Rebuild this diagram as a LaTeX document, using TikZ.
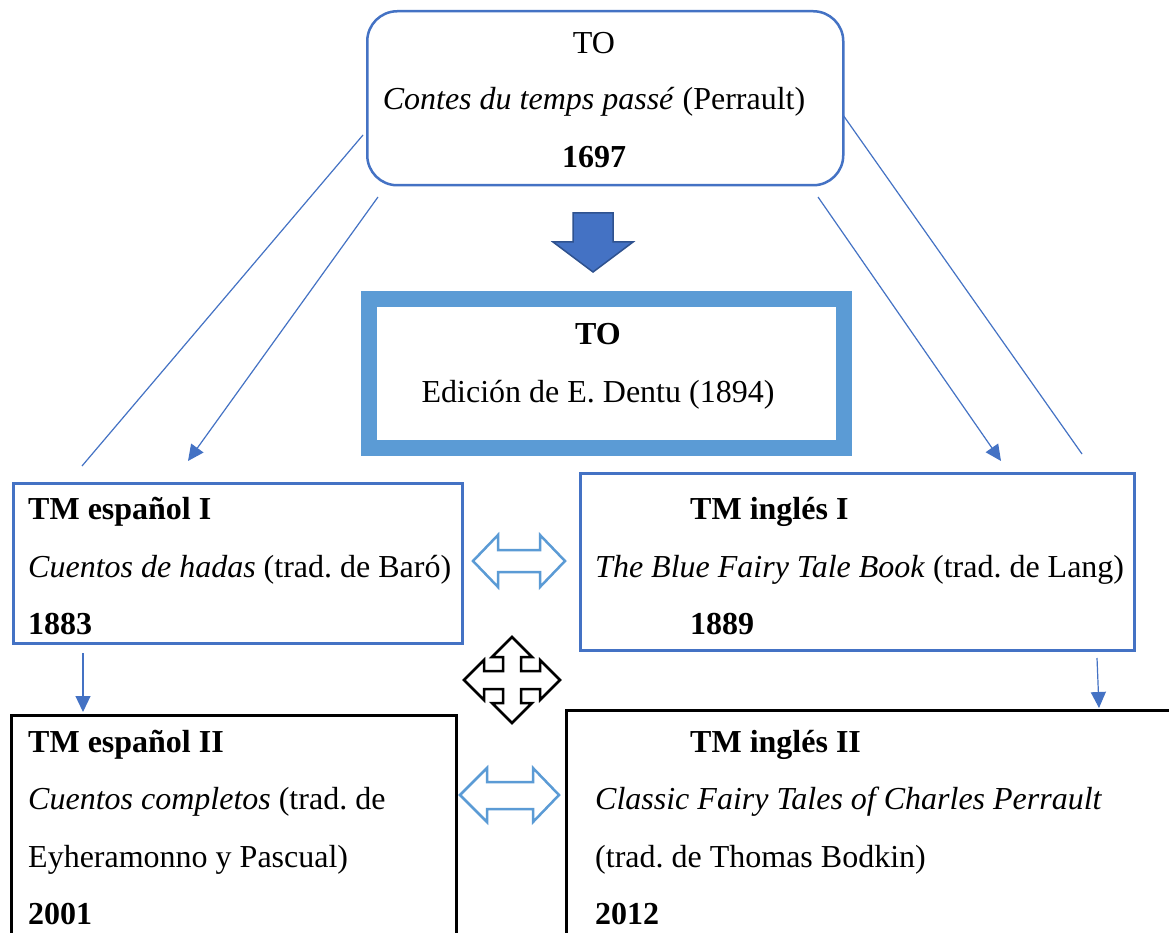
\documentclass[tikz,border=0pt]{standalone}
\usepackage{fontspec}
\setmainfont{Liberation Serif}
\usetikzlibrary{arrows.meta}
\frenchspacing
\definecolor{boxblue}{HTML}{4472C4}
\definecolor{lightblue}{HTML}{5B9BD5}
\definecolor{darkblue}{HTML}{2F528F}
\tikzset{
  txt/.style={inner sep=0pt, font=\fontsize{32}{38}\selectfont},
  bluebox/.style={draw=boxblue, line width=2.5pt, inner sep=0pt, fill=none},
  blackbox/.style={draw=black, line width=3pt, inner sep=0pt},
  framebox/.style={draw=lightblue, line width=16pt, inner sep=0pt},
  link/.style={draw=boxblue, line width=1.2pt},
  linkarrow/.style={link, -{Triangle[length=16pt,width=15pt]}},
  outlinearrow/.style={draw=lightblue, line width=2.5pt, fill=white, line join=miter},
}
\begin{document}
\begin{tikzpicture}[x=1pt,y=-1pt]
\useasboundingbox (0,0) rectangle (1169,933);
\clip (0,0) rectangle (1169,933);
\fill[white] (0,0) rectangle (1169,933);

% top box
\node[bluebox, rounded corners=30pt, minimum width=476pt, minimum height=174pt, anchor=north west] (top) at (366,10) {};
\node[txt, anchor=base] (topa) at (594,54) {TO};
\node[txt, anchor=base] (topb) at (594,110) {\textit{Contes du temps passé} (Perrault)};
\node[txt, anchor=base] (topc) at (594,168) {\textbf{1697}};

% big down arrow
\draw[fill=boxblue, draw=darkblue, line width=1.5pt, line join=miter]
  (573,213) -- (613,213) -- (613,242) -- (633,242) -- (593,272) -- (553,242) -- (573,242) -- cycle;

% thick frame
\node[framebox, minimum width=475pt, minimum height=149pt, anchor=north west] (dentu) at (361,291) {};
\node[txt, anchor=base] (dentua) at (598,344) {\textbf{TO}};
\node[txt, anchor=base] (dentub) at (598,402) {Edición de E. Dentu (1894)};

% TM espanol I
\node[bluebox, minimum width=449pt, minimum height=160pt, anchor=north west] (esp1) at (12,482) {};
\node[txt, anchor=base west] (esp1a) at (28,519) {\textbf{TM español I}};
\node[txt, anchor=base west] (esp1b) at (28,577) {\textit{Cuentos de hadas} (trad. de Baró)};
\node[txt, anchor=base west] (esp1c) at (28,634) {\textbf{1883}};

% TM ingles I
\node[bluebox, minimum width=554pt, minimum height=177pt, anchor=north west] (ing1) at (579,472) {};
\node[txt, anchor=base west] (ing1a) at (690,519) {\textbf{TM inglés I}};
\node[txt, anchor=base west] (ing1b) at (595,577) {\textit{The Blue Fairy Tale Book} (trad. de Lang)};
\node[txt, anchor=base west] (ing1c) at (690,634) {\textbf{1889}};

% TM espanol II
\node[blackbox, minimum width=445pt, minimum height=260pt, anchor=north west] (esp2) at (10,714) {};
\node[txt, anchor=base west] (esp2a) at (28,752) {\textbf{TM español II}};
\node[txt, anchor=base west] (esp2b) at (28,809) {\textit{Cuentos completos} (trad. de};
\node[txt, anchor=base west] (esp2c) at (28,867) {Eyheramonno y Pascual)};
\node[txt, anchor=base west] (esp2d) at (28,924) {\textbf{2001}};

% TM ingles II
\node[blackbox, minimum width=640pt, minimum height=260pt, anchor=north west] (ing2) at (565,709) {};
\node[txt, anchor=base west] (ing2a) at (690,752) {\textbf{TM inglés II}};
\node[txt, anchor=base west] (ing2b) at (595,809) {\textit{Classic Fairy Tales of Charles Perrault}};
\node[txt, anchor=base west] (ing2c) at (595,867) {(trad. de Thomas Bodkin)};
\node[txt, anchor=base west] (ing2d) at (595,924) {\textbf{2012}};

% connectors
\coordinate (l1s) at (363,135);  \coordinate (l1e) at (82,466);
\coordinate (a1s) at (378,197);  \coordinate (a1e) at (188,461);
\coordinate (a2s) at (818,197);  \coordinate (a2e) at (1001,461);
\coordinate (l2s) at (843,115);  \coordinate (l2e) at (1082,454);
\coordinate (a3s) at (83,653);   \coordinate (a3e) at (83,712);
\coordinate (a4s) at (1097,658); \coordinate (a4e) at (1099,708);
\draw[link] (l1s) -- (l1e);
\draw[linkarrow] (a1s) -- (a1e);
\draw[linkarrow] (a2s) -- (a2e);
\draw[link] (l2s) -- (l2e);
\draw[linkarrow] (a3s) -- (a3e);
\draw[linkarrow] (a4s) -- (a4e);

% outline double arrows
\draw[outlinearrow] (473,561) -- (498,535) -- (498,550) -- (540,550) -- (540,535) -- (565,561)
  -- (540,587) -- (540,572) -- (498,572) -- (498,587) -- cycle;
\draw[outlinearrow] (460,795) -- (487,768) -- (487,782) -- (533,782) -- (533,768) -- (559,795)
  -- (533,822) -- (533,809) -- (487,809) -- (487,822) -- cycle;

% quad arrow
\draw[draw=black, line width=2.5pt, fill=white, line join=miter]
  (512,637) -- (532,657) -- (521,657) -- (521,671) -- (540,671) -- (540,660) -- (560,680)
  -- (540,700) -- (540,689) -- (521,689) -- (521,703) -- (532,703) -- (512,723)
  -- (492,703) -- (503,703) -- (503,689) -- (484,689) -- (484,700) -- (464,680)
  -- (484,660) -- (484,671) -- (503,671) -- (503,657) -- (492,657) -- cycle;
\end{tikzpicture}
\end{document}
